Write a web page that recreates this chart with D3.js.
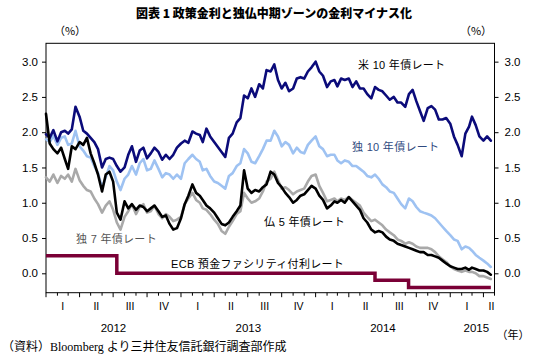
<!DOCTYPE html>
<html><head><meta charset="utf-8">
<script src="https://cdn.jsdelivr.net/npm/d3@7"></script>
<style>
html,body{margin:0;padding:0;background:#fff;}
svg{display:block;}
text{font-family:"Liberation Sans",Arial,"Noto Sans CJK JP",sans-serif;}
</style></head>
<body>
<svg id="chart" width="539" height="364"></svg>
<script>
// ---- data (3 readings per month: day 1, 11, 21; Jan 2012 – Apr 2015) ----
const startYear = 2012;
const readingDays = [1, 11, 21];
const us10 = [
 1.97,1.92,2.03, 1.87,2.00,2.02, 1.98,2.04,2.36, 2.22,2.02,1.98, 1.92,1.86,1.76, 1.50,1.62,1.64,
 1.62,1.52,1.44, 1.50,1.68,1.80, 1.58,1.74,1.78, 1.63,1.70,1.78, 1.72,1.61,1.68, 1.62,1.68,1.78,
 1.84,1.88,1.85, 2.01,1.98,1.96, 1.86,2.05,1.94, 1.86,1.79,1.72, 1.65,1.92,1.98, 2.14,2.20,2.52,
 2.48,2.62,2.50, 2.68,2.62,2.88, 2.86,2.96,2.74, 2.62,2.70,2.58, 2.62,2.76,2.78, 2.76,2.86,2.92,
 3.00,2.86,2.80, 2.64,2.72,2.74, 2.65,2.76,2.74, 2.76,2.64,2.72, 2.62,2.62,2.54, 2.48,2.64,2.60,
 2.58,2.52,2.46, 2.50,2.42,2.42, 2.36,2.54,2.60, 2.44,2.30,2.16, 2.34,2.37,2.32, 2.18,2.18,2.20,
 2.12,1.94,1.82, 1.66,1.98,2.08, 2.22,2.10,1.94, 1.88,1.94,1.88
];
const de10 = [
 1.90,1.86,1.95, 1.82,1.92,1.94, 1.82,1.84,2.02, 1.80,1.74,1.66, 1.64,1.52,1.42, 1.22,1.36,1.52,
 1.46,1.30,1.18, 1.34,1.40,1.52, 1.40,1.56,1.62, 1.46,1.48,1.60, 1.48,1.36,1.42, 1.40,1.34,1.40,
 1.34,1.56,1.62, 1.68,1.62,1.58, 1.46,1.48,1.38, 1.30,1.28,1.24, 1.20,1.38,1.42, 1.52,1.56,1.76,
 1.70,1.58,1.56, 1.66,1.76,1.88, 1.88,2.02,1.94, 1.80,1.86,1.82, 1.70,1.78,1.72, 1.70,1.82,1.88,
 1.94,1.80,1.76, 1.66,1.68,1.68, 1.60,1.56,1.60, 1.58,1.52,1.52, 1.48,1.44,1.38, 1.36,1.40,1.34,
 1.26,1.22,1.16, 1.14,1.06,0.98, 0.92,1.06,1.02, 0.94,0.88,0.86, 0.84,0.82,0.78, 0.72,0.66,0.60,
 0.54,0.48,0.46, 0.34,0.38,0.36, 0.32,0.26,0.22, 0.18,0.14,0.09
];
const fr5 = [
 2.26,1.84,1.76, 1.70,1.78,1.62, 1.48,1.80,1.76, 1.86,1.82,1.92, 1.70,1.56,1.40, 1.16,1.40,1.44,
 1.30,0.86,0.76, 1.02,0.92,0.98, 0.90,0.96,0.94, 0.88,0.92,0.96, 0.88,0.80,0.82, 0.70,0.62,0.64,
 0.78,0.98,1.10, 1.26,1.14,1.10, 1.04,0.96,0.92, 0.86,0.78,0.70, 0.68,0.72,0.80, 0.88,0.96,1.46,
 1.20,1.14,1.18, 1.16,1.22,1.26, 1.44,1.40,1.28, 1.22,1.14,1.08, 1.00,1.04,1.10, 1.12,1.18,1.24,
 1.20,1.10,1.04, 0.92,0.96,1.02, 1.00,1.04,1.00, 1.08,1.02,0.96, 0.90,0.78,0.72, 0.62,0.58,0.60,
 0.58,0.52,0.48, 0.46,0.42,0.40, 0.38,0.36,0.34, 0.32,0.30,0.30, 0.26,0.26,0.24, 0.22,0.18,0.14,
 0.10,0.08,0.06, 0.06,0.08,0.05, 0.08,0.06,0.04, 0.04,0.02,-0.02
];
const de7 = [
 1.36,1.30,1.40, 1.28,1.38,1.34, 1.40,1.30,1.48, 1.32,1.24,1.18, 1.16,1.06,0.98, 0.86,0.96,1.02,
 0.90,0.72,0.62, 0.80,0.88,0.98, 0.84,0.94,0.98, 0.86,0.88,0.96, 0.84,0.78,0.84, 0.80,0.74,0.76,
 0.80,0.98,1.06, 1.14,1.04,1.00, 0.92,0.90,0.84, 0.76,0.70,0.60, 0.56,0.66,0.74, 0.84,0.88,1.14,
 1.06,1.00,1.02, 1.06,1.16,1.30, 1.34,1.44,1.32, 1.20,1.22,1.18, 1.12,1.16,1.18, 1.20,1.30,1.38,
 1.40,1.24,1.14, 1.02,1.04,1.06, 1.02,1.06,1.04, 1.08,1.04,1.00, 0.96,0.86,0.80, 0.74,0.76,0.72,
 0.68,0.62,0.58, 0.54,0.48,0.46, 0.42,0.44,0.42, 0.38,0.36,0.36, 0.36,0.34,0.30, 0.24,0.20,0.16,
 0.10,0.06,0.04, 0.02,0.04,0.02, 0.02,0.00,-0.04, -0.04,-0.06,-0.08
];
const ecbDates = ["2012-01-01","2012-07-11","2014-06-11","2014-09-10","2015-04-21"];
const ecbRates = [0.25, 0.00, -0.10, -0.20, -0.20];
const yTicks = [0.0, 0.5, 1.0, 1.5, 2.0, 2.5, 3.0];
const quarterLabels = ["I","II","III","IV"];
const years = [2012, 2013, 2014, 2015];
const seriesLabels = ["米 10 年債レート","独 10 年債レート","仏 5 年債レート","独 7 年債レート","ECB 預金ファシリティ付利レート"];
const titleText = "図表 1 政策金利と独仏中期ゾーンの金利マイナス化";
const sourceText = "（資料）Bloomberg より三井住友信託銀行調査部作成";

// ---- layout ----
const svg = d3.select("#chart");
const L = 46, R = 494.5, T = 43.3, B = 292.7;
const x = d3.scaleTime().domain([new Date(2012,0,1), new Date(2015,4,1)]).range([L, R]);
const y = d3.scaleLinear().domain([-0.275, 3.26]).range([B, T]);

const dates = us10.map((_, i) => {
  const m = Math.floor(i / 3);
  return new Date(startYear + Math.floor(m / 12), m % 12, readingDays[i % 3]);
});

// title
svg.append("text").attr("x", 274).attr("y", 18).attr("text-anchor", "middle")
  .style("font-family", "'Noto Sans CJK JP',sans-serif").style("font-weight", "900")
  .style("font-size", "12px").text(titleText);
svg.append("text").attr("x", 70).attr("y", 35).attr("text-anchor", "middle")
  .style("font-family", "'Noto Sans CJK JP',sans-serif").style("font-size", "11px").text("（%）");
svg.append("text").attr("x", 476).attr("y", 35).attr("text-anchor", "middle")
  .style("font-family", "'Noto Sans CJK JP',sans-serif").style("font-size", "11px").text("（%）");

// frame
svg.append("rect").attr("x", L).attr("y", T).attr("width", R - L).attr("height", B - T)
  .attr("fill", "none").attr("stroke", "#000").attr("stroke-width", 1);

// y axes
const yLeft = d3.axisLeft(y).tickValues(yTicks).tickFormat(d3.format(".1f")).tickSize(4).tickPadding(4);
const gl = svg.append("g").attr("transform", `translate(${L},0)`).call(yLeft);
const yRight = d3.axisRight(y).tickValues(yTicks).tickFormat(d3.format(".1f")).tickSize(4).tickPadding(6);
const gr = svg.append("g").attr("transform", `translate(${R},0)`).call(yRight);
[gl, gr].forEach(g => {
  g.select(".domain").remove();
  g.selectAll("text").style("font-size", "11.5px").style("font-family", "'Liberation Sans',Arial,sans-serif").attr("fill", "#000");
});

// x axis: monthly ticks
const months = d3.timeMonth.range(new Date(2012,0,1), new Date(2015,4,2));
const xa = svg.append("g");
xa.selectAll("line").data(months).join("line")
  .attr("x1", d => x(d)).attr("x2", d => x(d))
  .attr("y1", B).attr("y2", d => B + (d.getMonth() % 3 === 0 ? 4.5 : 3))
  .attr("stroke", "#000").attr("stroke-width", 1);
const quarters = d3.timeMonth.every(3).range(new Date(2012,0,1), new Date(2015,4,1));
xa.selectAll("text.q").data(quarters).join("text").attr("class", "q")
  .attr("x", d => {
    const end = d3.min([x(d3.timeMonth.offset(d, 3)), R]);
    const mid = (x(d) + end) / 2;
    return end < x(d3.timeMonth.offset(d, 3)) ? mid + 2.5 : mid;
  })
  .attr("y", B + 17).attr("text-anchor", "middle")
  .style("font-size", "10.5px").style("font-family", "'Liberation Sans',Arial,sans-serif")
  .text(d => quarterLabels[Math.floor(d.getMonth() / 3)]);
xa.selectAll("text.y").data(years).join("text").attr("class", "y")
  .attr("x", d => {
    const s = x(new Date(d,0,1)), e = Math.min(x(new Date(d+1,0,1)), R);
    return (s + e) / 2 + (e < R ? 0 : 4);
  })
  .attr("y", B + 39).attr("text-anchor", "middle")
  .style("font-size", "11.5px").style("font-family", "'Liberation Sans',Arial,sans-serif")
  .text(d => d);
svg.append("text").attr("x", 513).attr("y", 339).attr("text-anchor", "middle")
  .style("font-family", "'Noto Sans CJK JP',sans-serif").style("font-size", "11px").text("（年）");

// lines
const line = d3.line().x((d, i) => x(dates[i])).y(d => y(d)).curve(d3.curveLinear);
const plot = svg.append("g");
function draw(values, color, w) {
  plot.append("path").datum(values).attr("d", line)
    .attr("fill", "none").attr("stroke", color).attr("stroke-width", w)
    .attr("stroke-linejoin", "round").attr("stroke-linecap", "round");
}
draw(de10, "#9EC2F2", 2.6);
draw(us10, "#0B0B7A", 2.6);
draw(de7, "#A9A9A9", 2.6);
draw(fr5, "#000000", 2.6);

const ecbLine = d3.line().x((d, i) => x(new Date(ecbDates[i]))).y(d => y(d)).curve(d3.curveStepAfter);
plot.append("path").datum(ecbRates).attr("d", ecbLine)
  .attr("fill", "none").attr("stroke", "#7A0036").attr("stroke-width", 3.5);

// series labels
const lab = [
  {t: seriesLabels[0], x: 358, y: 69, c: "#000"},
  {t: seriesLabels[1], x: 352, y: 151, c: "#2F4A80"},
  {t: seriesLabels[2], x: 264, y: 226, c: "#000"},
  {t: seriesLabels[3], x: 76, y: 243, c: "#555"},
  {t: seriesLabels[4], x: 171, y: 268, c: "#000"}
];
svg.append("g").selectAll("text").data(lab).join("text")
  .attr("x", d => d.x).attr("y", d => d.y).attr("fill", d => d.c)
  .style("font-family", "'Liberation Sans','Noto Sans CJK JP',sans-serif").style("font-size", "11px")
  .style("letter-spacing", "0.3px")
  .text(d => d.t);

// source
svg.append("text").attr("x", 2).attr("y", 351)
  .style("font-family", "'Liberation Serif','Noto Sans CJK JP',serif").style("font-size", "12px")
  .text(sourceText);
</script>
</body></html>
